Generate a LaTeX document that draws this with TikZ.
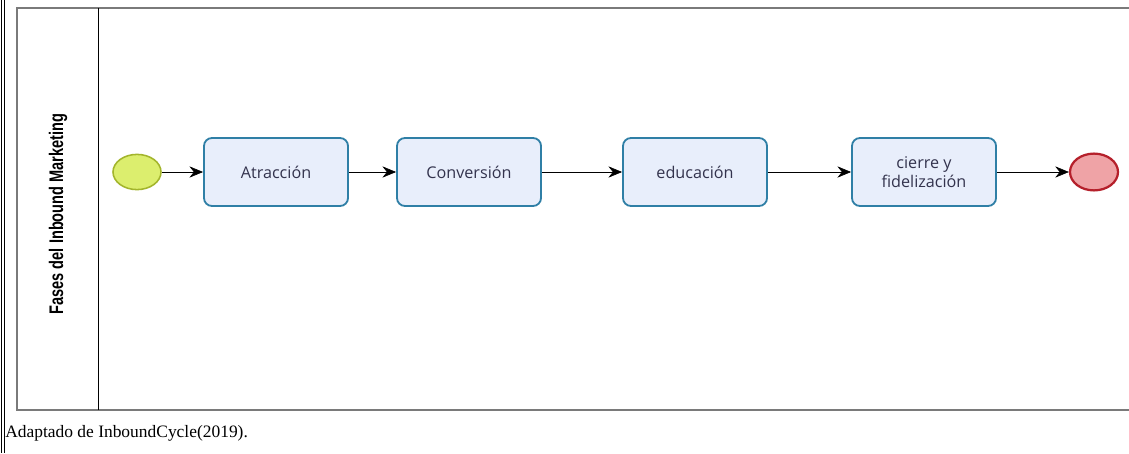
\documentclass[tikz,border=0pt]{standalone}
\usepackage{fontspec}
\setmainfont{Liberation Serif}
\setsansfont{Open Sans}
\newfontfamily\lanefont{Liberation Sans}
\usetikzlibrary{arrows.meta,shapes.geometric}

\definecolor{taskfill}{HTML}{E8EEFB}
\definecolor{taskline}{HTML}{2F7FA6}
\definecolor{tasktext}{HTML}{33334D}
\definecolor{startfill}{HTML}{DCEE6E}
\definecolor{startline}{HTML}{A3B52C}
\definecolor{endfill}{HTML}{EFA3A6}
\definecolor{endline}{HTML}{B5202B}
\definecolor{poolline}{HTML}{7A7A7A}

\tikzset{
  task/.style={draw=taskline, line width=1.3pt, fill=taskfill, rounded corners=0.2cm,
    minimum width=3.6cm, minimum height=1.7cm, align=center, text=tasktext,
    font=\sffamily\fontsize{11.5}{13.5}\selectfont},
  startev/.style={ellipse, draw=startline, fill=startfill, line width=1.1pt,
    minimum width=1.2cm, minimum height=0.88cm},
  endev/.style={ellipse, draw=endline, fill=endfill, line width=1.6pt,
    minimum width=1.2cm, minimum height=0.92cm},
  flow/.style={->, thin, black}
}

\begin{document}
\begin{tikzpicture}[x=0.025cm, y=-0.025cm, >={Stealth[length=3.4mm,width=2.8mm]}]
			\useasboundingbox (0,0) rectangle (1129,453);
			% table edge
			\draw[line width=0.9pt] (1.5,0) -- (1.5,453);
			\draw[line width=0.9pt] (4.5,0) -- (4.5,453);
			% pool and lane
			\draw[poolline, line width=1.4pt] (1140,8) -- (17,8) -- (17,410) -- (1140,410);
			\draw (98,8) -- (98,410);
			\node[rotate=90, font=\lanefont\bfseries\fontsize{14}{16}\selectfont] (lane) at (58,214) {\scalebox{0.74}[1]{Fases del Inbound Marketing}};
			% events and tasks
			\node[startev] (inicio) at (137,172) {};
			\node[task] (atraccion) at (276,172) {Atracción};
			\node[task] (conversion) at (469,172) {Conversión};
			\node[task] (educacion) at (695,172) {educación};
			\node[task] (cierre) at (924,172) {cierre y\\fidelización};
			\node[endev] (fin) at (1094,172) {};
			% flows
			\draw[flow] (inicio) -- (atraccion);
			\draw[flow] (atraccion) -- (conversion);
			\draw[flow] (conversion) -- (educacion);
			\draw[flow] (educacion) -- (cierre);
			\draw[flow] (cierre) -- (fin);
			\node[anchor=base west, inner sep=0, font=\fontsize{12.4}{14}\selectfont] (fuente) at (5,437) {Adaptado de InboundCycle(2019).};
		\end{tikzpicture}
\end{document}
